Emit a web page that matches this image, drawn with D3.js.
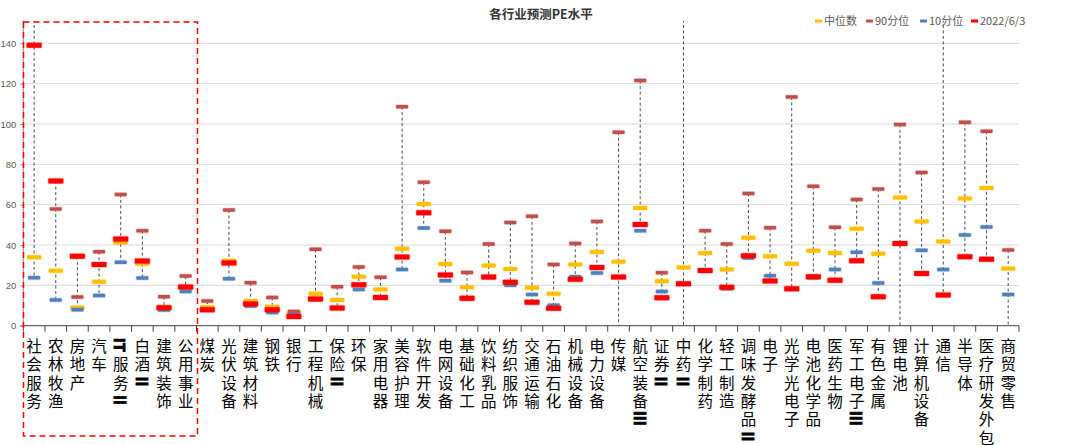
<!DOCTYPE html>
<html><head><meta charset="utf-8">
<script src="https://cdn.jsdelivr.net/npm/d3@7"></script>
<style>body{margin:0;background:#fff;}svg{display:block;}</style>
</head><body>
<svg id="c" width="1080" height="445"></svg>
<script>
const categories = ["社会服务","农林牧渔","房地产","汽车","IT服务Ⅱ","白酒Ⅱ","建筑装饰","公用事业","煤炭","光伏设备","建筑材料","钢铁","银行","工程机械","保险Ⅱ","环保","家用电器","美容护理","软件开发","电网设备","基础化工","饮料乳品","纺织服饰","交通运输","石油石化","机械设备","电力设备","传媒","航空装备Ⅲ","证券Ⅱ","中药Ⅱ","化学制药","轻工制造","调味发酵品Ⅱ","电子","光学光电子","电池化学品","医药生物","军工电子Ⅲ","有色金属","锂电池","计算机设备","通信","半导体","医疗研发外包","商贸零售"];
const median  = [33.9,27.3,8.9,21.8,41.2,30.7,9.3,19.0,9.1,32.2,12.2,9.4,6.3,15.9,12.7,24.3,18.0,38.2,60.3,30.6,19.0,29.9,28.1,18.8,15.9,30.4,36.5,31.7,58.3,22.0,28.9,36.0,27.9,43.6,34.4,30.7,37.2,36.0,48.1,35.7,63.5,51.7,41.7,63.1,68.3,28.3];
const p90     = [160,57.9,14.2,36.7,65.1,47.1,14.4,24.6,12.2,57.4,21.3,14.0,7.1,37.9,19.3,29.1,24.0,108.6,71.1,46.8,26.4,40.5,51.2,54.2,30.4,40.7,51.7,95.9,121.5,26.3,160,47.1,40.5,65.5,48.6,113.4,69.1,48.8,62.6,67.8,99.8,76.0,160,100.8,96.4,37.5];
const p10     = [23.8,12.7,7.9,15.0,31.4,23.6,7.8,17.0,7.6,23.3,9.8,6.6,5.5,13.0,8.6,18.0,13.8,27.8,48.4,22.3,13.4,23.9,20.0,15.5,10.2,24.3,26.1,-10,47.1,17.0,-10,27.2,18.3,33.6,24.8,18.1,23.8,27.8,36.4,21.2,-10,37.4,27.9,45.0,48.9,15.5];
const current = [139.0,71.7,34.4,30.4,43.0,32.1,8.9,19.2,7.9,31.1,10.7,7.9,4.6,13.2,8.8,20.3,14.0,34.0,56.0,25.1,13.6,24.1,21.5,11.6,8.6,23.0,28.9,24.1,50.2,13.9,20.8,27.4,19.0,34.7,22.1,18.3,24.3,22.5,32.2,14.4,40.8,25.9,15.2,34.2,32.9,-10];
const yTicks = [0,20,40,60,80,100,120,140];
const seriesNames = ["中位数","90分位","10分位","2022/6/3"];
const seriesColors = ["#FFC000","#C0504D","#4F81BD","#FF0000"];

const svg = d3.select("#c");
const x = d3.scaleBand().domain(categories).range([23.3, 1019]).padding(0);
const y = d3.scaleLinear().domain([0,140]).range([325.7, 43.3]);
const topY = 21;

svg.append("g").selectAll("line").data(yTicks.filter(d=>d>0)).join("line")
  .attr("x1", 23.3).attr("x2", 1019).attr("y1", d=>y(d)).attr("y2", d=>y(d))
  .attr("stroke", "#D9D9D9").attr("stroke-width", 1);

const ya = svg.append("g").attr("transform","translate(23.3,0)")
  .call(d3.axisLeft(y).tickValues(yTicks).tickSize(3).tickPadding(4));
ya.select(".domain").attr("stroke","#868686").attr("d", `M-3,${y(0)}H0V${topY}`);
ya.selectAll(".tick line").attr("stroke","#868686");
ya.selectAll(".tick text").attr("font-family","'Liberation Sans', Arial, sans-serif").attr("font-size","9.5px").attr("fill","#595959");

svg.append("clipPath").attr("id","plotclip").append("rect")
  .attr("x", 20).attr("y", topY).attr("width", 1005).attr("height", y(0)-topY);
const plot = svg.append("g").attr("clip-path","url(#plotclip)");

const allSeries = [median, p90, p10, current];
plot.append("g").selectAll("line").data(categories).join("line")
  .attr("x1", d=>x(d)+x.bandwidth()/2).attr("x2", d=>x(d)+x.bandwidth()/2)
  .attr("y1", (d,i)=>y(d3.max(allSeries, s=>s[i])))
  .attr("y2", (d,i)=>y(d3.min(allSeries, s=>s[i])))
  .attr("stroke","#4a4a4a").attr("stroke-width",1).attr("stroke-dasharray","3,2.5");

const xa = svg.append("g").attr("transform",`translate(0,${y(0)})`);
xa.append("line").attr("x1",23.3).attr("x2",1019).attr("y1",0).attr("y2",0).attr("stroke","#404040").attr("stroke-width",1);
const bounds = categories.map(c=>x(c)).concat([x.range()[1]]);
xa.selectAll("line.tk").data(bounds).join("line").attr("class","tk")
  .attr("x1",d=>d).attr("x2",d=>d).attr("y1",0).attr("y2",6).attr("stroke","#404040");

const sizes = [[14,4],[12,3.5],[12,3.5],[15,5]];
allSeries.forEach((s, si) => {
  const [w,h] = sizes[si];
  plot.append("g").selectAll("rect").data(categories).join("rect")
    .attr("x", d=>x(d)+x.bandwidth()/2 - w/2)
    .attr("y", (d,i)=>y(s[i]) - h/2)
    .attr("width", w).attr("height", h).attr("rx", 0.8)
    .attr("fill", seriesColors[si])
    .attr("stroke", seriesColors[si]).attr("stroke-opacity",0.25).attr("stroke-width",1.5);
});

// x labels (vertical): CJK chars in one text with tspans, Latin/Roman runs rotated
const lab = svg.append("g").attr("font-family","'Noto Sans CJK SC', sans-serif").attr("font-size","15.5px").attr("fill","#000");
categories.forEach(c => {
  const cx = x(c) + x.bandwidth()/2;
  const tokens = c.match(/[A-Za-z\u2160-\u216F]+|./g);
  const t = lab.append("text").attr("text-anchor","middle").attr("dominant-baseline","central");
  tokens.forEach((tk, k) => {
    const cy = 345 + k*18.3;
    if (/^[A-Za-z\u2160-\u216F]+$/.test(tk)) {
      lab.append("text").attr("transform",`translate(${cx},${cy}) rotate(90)`)
        .attr("text-anchor","middle").attr("dominant-baseline","central")
        .attr("font-weight","bold").attr("font-size","15px")
        .attr("stroke","#000").attr("stroke-width",0.9).text(tk);
    } else {
      t.append("tspan").attr("x",cx).attr("y",cy).text(tk);
    }
  });
});

svg.append("rect").attr("x",23.5).attr("y",22).attr("width",174).attr("height",414)
  .attr("fill","none").attr("stroke","#FF0000").attr("stroke-width",1.5).attr("stroke-dasharray","6,4");

svg.append("text").attr("x",541).attr("y",19).attr("text-anchor","middle")
  .attr("font-family","'Noto Sans CJK SC', sans-serif").attr("font-size","12.5px").attr("font-weight","bold")
  .attr("fill","#333").text("各行业预测PE水平");

const legX = [815, 866, 920, 971];
const leg = svg.append("g").attr("font-family","'Noto Sans CJK SC', sans-serif").attr("font-size","11px").attr("fill","#595959");
seriesNames.forEach((n,i)=>{
  leg.append("rect").attr("x",legX[i]).attr("y",19.5).attr("width",7).attr("height",3).attr("fill",seriesColors[i]);
  leg.append("text").attr("x",legX[i]+9).attr("y",25).text(n);
});
</script>
</body></html>
